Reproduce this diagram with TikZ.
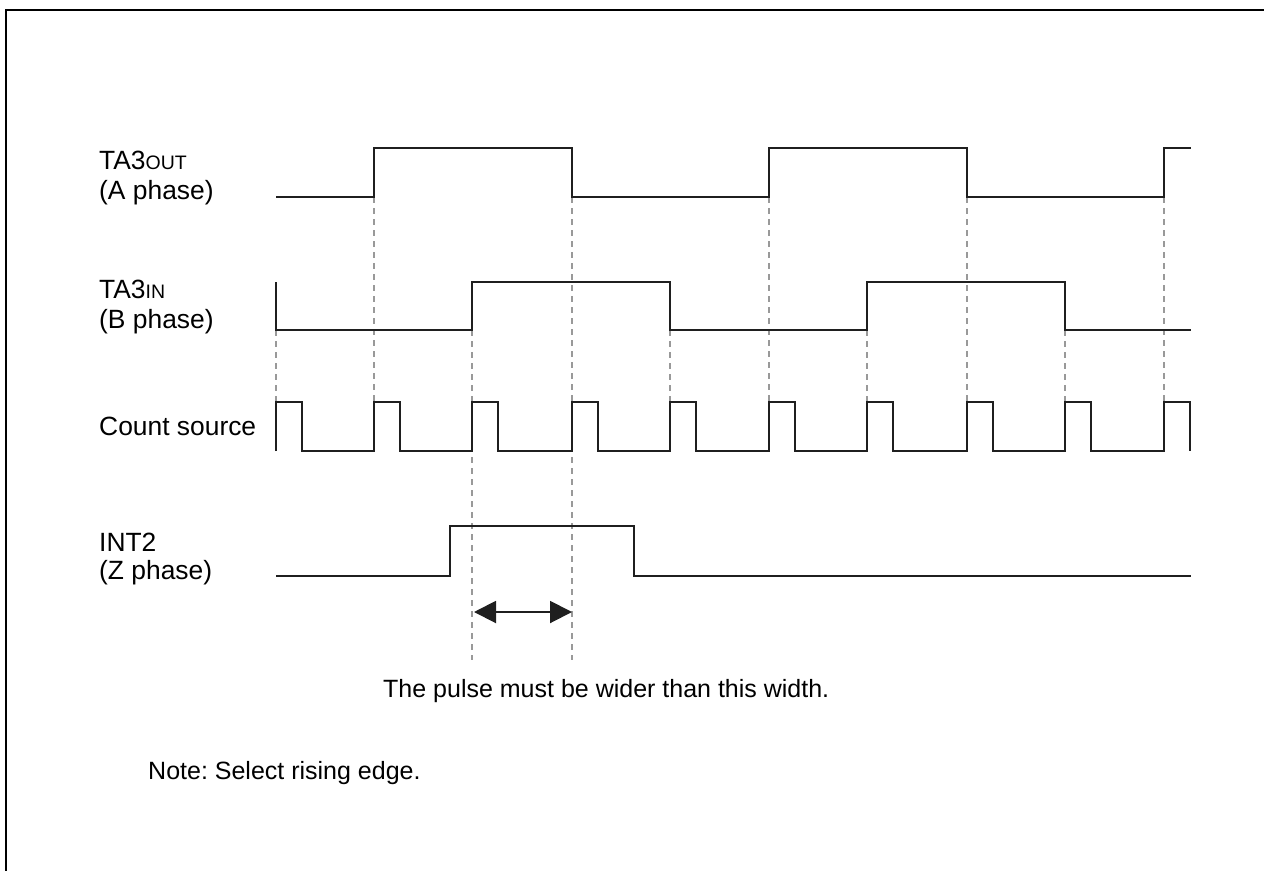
\documentclass[tikz,border=0pt]{standalone}
\usepackage{fontspec}
\setmainfont{Liberation Sans}
\usetikzlibrary{arrows.meta}
\begin{document}
\frenchspacing
\begin{tikzpicture}[x=1pt,y=-1pt,
  wave/.style={line width=2.7pt, black!88, line join=miter},
  guide/.style={line width=1.3pt, black!40, dash pattern=on 6pt off 5pt},
  frameline/.style={line width=2.3pt, black},
  lbl/.style={anchor=base west, inner sep=0pt, font=\fontsize{26.4}{30}\selectfont},
  note/.style={anchor=base west, inner sep=0pt, font=\fontsize{25}{30}\selectfont},
]
\useasboundingbox (0,0) rectangle (1264,871);
% frame
\draw[frameline] (1264,10) -- (6,10) -- (6,871);

% guide lines
\foreach \x in {374,572,769,967,1164} {
  \draw[guide] (\x,197) -- (\x,402);
}
\foreach \x in {276,472,670,867,1065} {
  \draw[guide] (\x,330) -- (\x,402);
}
\draw[guide] (472,402) -- (472,660);
\draw[guide] (572,402) -- (572,660);

% TA3OUT
\draw[wave] (276,197) -| (374,148) -| (572,197) -| (769,148) -| (967,197) -| (1164,148) -- (1191,148);
% TA3IN
\draw[wave] (276,282) -- (276,330) -| (472,282) -| (670,330) -| (867,282) -| (1065,330) -- (1191,330);
% Count source
\draw[wave] (276,451) |- (302,402) |- (374,451) |- (400,402) |- (472,451) |- (498,402)
  |- (572,451) |- (598,402) |- (670,451) |- (696,402) |- (769,451) |- (795,402)
  |- (867,451) |- (893,402) |- (967,451) |- (993,402) |- (1065,451) |- (1091,402)
  |- (1164,451) |- (1190,402) -- (1190,451);
% INT2
\draw[wave] (276,576) -| (450,526) -| (634,576) -- (1191,576);

% width arrow
\coordinate (wl) at (474,612);
\coordinate (wr) at (572,612);
\draw[line width=2pt, black!88, {Triangle[length=22pt,width=22pt]}-{Triangle[length=22pt,width=22pt]}] (wl) -- (wr);

% labels
\node[lbl] (l1) at (99,169) {TA3{\fontsize{19.5}{20}\selectfont OUT}};
\node[lbl] (l2) at (99,199) {(A phase)};
\node[lbl] (l3) at (99,298) {TA3{\fontsize{19.5}{20}\selectfont IN}};
\node[lbl] (l4) at (99,328.5) {(B phase)};
\node[lbl] (l5) at (99,435.5) {Count source};
\node[lbl] (l6) at (99,551) {INT2};
\node[lbl] (l7) at (99,579) {(Z phase)};
\node[note] (l8) at (383,697) {The pulse must be wider than this width.};
\node[note] (l9) at (148,779) {Note: Select rising edge.};
\end{tikzpicture}
\end{document}
